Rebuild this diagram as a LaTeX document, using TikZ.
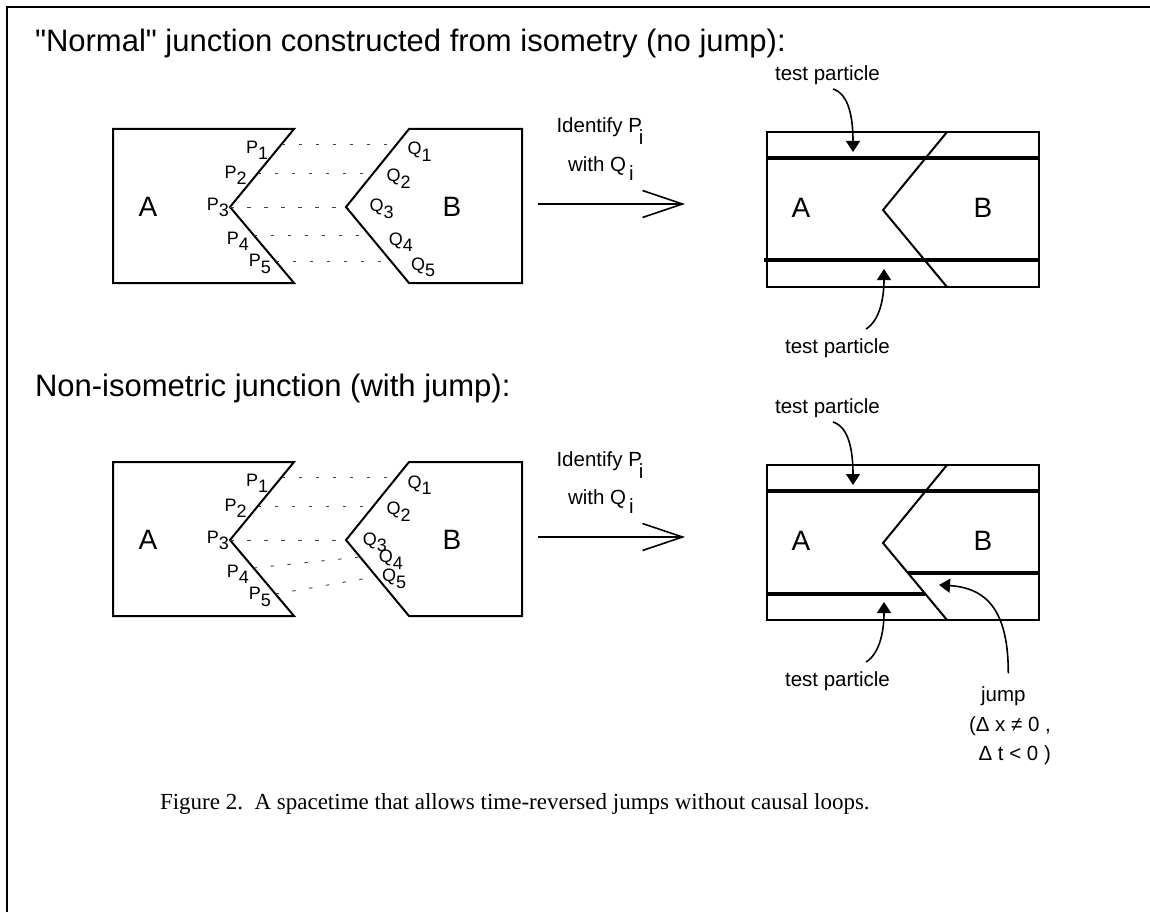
\documentclass[tikz,border=0pt]{standalone}
\usepackage{fontspec}
\defaultfontfeatures{}
\defaultfontfeatures[\rmfamily,\sffamily]{}
\setmainfont{Liberation Sans}
\newfontfamily\serifcap{Liberation Serif}
\usetikzlibrary{arrows.meta}

% a same-size index set below the baseline
\newcommand\lowered[2]{\raisebox{-#1}{#2}}

\tikzset{
  fs/.style={font=\fontsize{#1}{#1}\selectfont},
  txt/.style={inner sep=0pt, outer sep=0pt},
  region/.style={line width=2pt, line join=miter},
  link/.style={line width=0.9pt, black!75, dash pattern=on 3.5pt off 13.5pt},
  worldline/.style={line width=4.5pt},
  pointer/.style={line width=1.6pt, -{Triangle[width=14pt,length=11pt]}},
  identify/.style={line width=1.6pt, -{Straight Barb[length=40pt,width=27pt]}},
  ptlabel/.style={txt, fs=18, anchor=base west},
  region label/.style={txt, fs=28},
  heading/.style={txt, fs=31, anchor=base west},
  note/.style={txt, fs=20.5},
}

% parts shared by both rows; #1 is a suffix for the names
\newcommand\pairpanel[1]{%
  % the two regions before gluing
  \draw[region] (113,129) -- (294,129) -- (230,207) -- (294,283) -- (113,283) -- cycle;
  \draw[region] (522,129) -- (409,129) -- (346,207) -- (409,283) -- (522,283) -- cycle;
  \node[region label] (A#1) at (148,207) {A};
  \node[region label] (B#1) at (452,207) {B};
  % points on the edge of A
  \coordinate (p1#1) at (281.7,144);
  \coordinate (p2#1) at (257.9,173);
  \coordinate (p3#1) at (230,207);
  \coordinate (p4#1) at (253.6,235);
  \coordinate (p5#1) at (275.5,261);
  \node[ptlabel] (P1#1) at (246.2,153.3) {P\lowered{6.5pt}{1}};
  \node[ptlabel] (P2#1) at (224.5,178.3) {P\lowered{6.5pt}{2}};
  \node[ptlabel] (P3#1) at (206.8,210) {P\lowered{6.5pt}{3}};
  \node[ptlabel] (P4#1) at (226.8,244.3) {P\lowered{6.5pt}{4}};
  \node[ptlabel] (P5#1) at (248.8,266.7) {P\lowered{6.5pt}{5}};
  % matching points on the edge of B
  \coordinate (q1#1) at (396.9,144);
  \coordinate (q2#1) at (373.5,173);
  \coordinate (q3#1) at (346,207);
  \node[ptlabel] (Q1#1) at (407.5,155) {Q\lowered{6.5pt}{1}};
  \node[ptlabel] (Q2#1) at (386.5,181.7) {Q\lowered{6.5pt}{2}};
  \draw[link] (p1#1) -- (q1#1);
  \draw[link] (p2#1) -- (q2#1);
  \draw[link] (p3#1) -- (q3#1);
  % the gluing arrow
  \node[note, anchor=base west] (id1#1) at (556.5,133) {Identify P\hspace{-3pt}\lowered{12pt}{i}};
  \node[note, anchor=base west] (id2#1) at (568,171.7) {with Q\hspace{3pt}\lowered{8.3pt}{i}};
  \coordinate (ar-s#1) at (538,204);
  \coordinate (ar-e#1) at (685,204);
  \draw[identify] (ar-s#1) -- (ar-e#1);
  % the glued spacetime
  \draw[region] (767,132) rectangle (1039,287);
  \draw[region] (947,132) -- (883,210) -- (947,287);
  \node[region label] (GA#1) at (801,208) {A};
  \node[region label] (GB#1) at (983,208) {B};
  % test particle pointers
  \node[note, anchor=base] (tpu#1) at (827.5,80.7) {test particle};
  \coordinate (tpu-from#1) at (833,89);
  \coordinate (tpu-to#1) at (853,152);
  \draw[pointer] (tpu-from#1) .. controls (849,94) and (853,118) .. (tpu-to#1);
  \node[note, anchor=base] (tpl#1) at (837.5,353.3) {test particle};
  \coordinate (tpl-from#1) at (866,329);
  \coordinate (tpl-to#1) at (884,269);
  \draw[pointer] (tpl-from#1) .. controls (879,321) and (884,300) .. (tpl-to#1);
}

\begin{document}
\begin{tikzpicture}[x=1pt,y=-1pt]
\useasboundingbox (0,0) rectangle (1150,912);
\draw[line width=2pt] (7,912) -- (7,7) -- (1150,7);

\node[heading] (head1) at (35,52) {"Normal" junction constructed from isometry (no jump):};
\node[heading] (head2) at (35,396) {Non-isometric junction (with jump):};

% ---- isometric junction ----
\pairpanel{t}
\coordinate (q4t) at (369.2,235);
\coordinate (q5t) at (390.8,261);
\node[ptlabel] (Q3t) at (369.5,211.7) {Q\lowered{6.5pt}{3}};
\node[ptlabel] (Q4t) at (388.8,245) {Q\lowered{6.5pt}{4}};
\node[ptlabel] (Q5t) at (411.2,270) {Q\lowered{6.5pt}{5}};
\draw[link] (p4t) -- (q4t);
\draw[link] (p5t) -- (q5t);
\coordinate (wu-s) at (768,158);
\coordinate (wu-e) at (1040,158);
\coordinate (wl-s) at (764,260);
\coordinate (wl-e) at (1040,260);
\draw[worldline] (wu-s) -- (wu-e);
\draw[worldline] (wl-s) -- (wl-e);

% ---- non-isometric junction ----
\begin{scope}[yshift=-333pt]
\pairpanel{b}
\coordinate (q4b) at (360,224);
\coordinate (q5b) at (376,243.7);
\node[ptlabel] (Q3b) at (362.8,212) {Q\lowered{6.5pt}{3}};
\node[ptlabel] (Q4b) at (378.8,229.7) {Q\lowered{6.5pt}{4}};
\node[ptlabel] (Q5b) at (382.2,248.7) {Q\lowered{6.5pt}{5}};
\draw[link] (p4b) -- (q4b);
\draw[link] (p5b) -- (q5b);
\coordinate (xu-s) at (768,158);
\coordinate (xu-e) at (1040,158);
\coordinate (xl-s) at (768,261);
\coordinate (xl-e) at (925.4,261);
\coordinate (xr-s) at (907.9,240);
\coordinate (xr-e) at (1040,240);
\draw[worldline] (xu-s) -- (xu-e);
\draw[worldline] (xl-s) -- (xl-e);
\draw[worldline] (xr-s) -- (xr-e);
% the jump
\node[note, anchor=base] (jump) at (1003.3,368.7) {jump};
\node[note, anchor=base west] (dx) at (969,398.7) {(Δ x ≠ 0 ,};
\node[note, anchor=base west] (dt) at (978.5,427) {Δ t < 0 )};
\coordinate (jump-from) at (1008.3,340.3);
\coordinate (jump-to) at (939,252);
\draw[pointer] (jump-from) .. controls (1008.3,282) and (990,255) .. (jump-to);
\end{scope}

\node[txt, anchor=base west, font=\serifcap\fontsize{23}{23}\selectfont] (caption) at (160,809)
  {Figure 2.\ \ A spacetime that allows time-reversed jumps without causal loops.};
\end{tikzpicture}
\end{document}
